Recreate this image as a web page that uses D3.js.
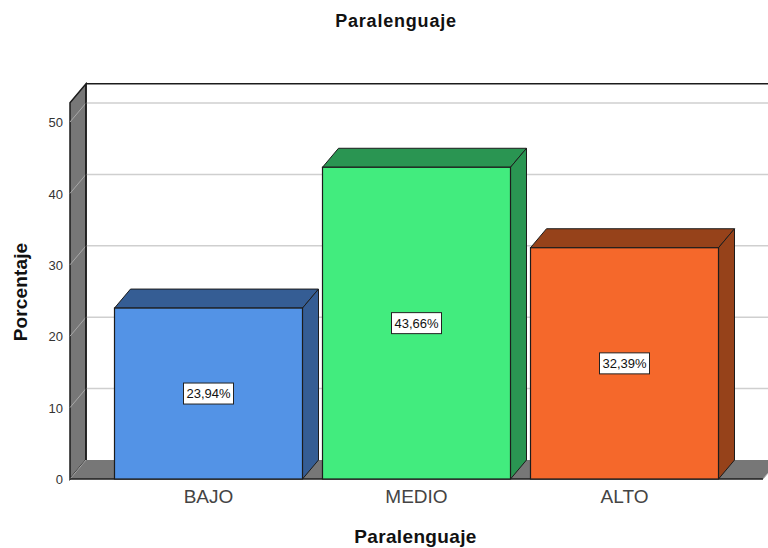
<!DOCTYPE html>
<html><head><meta charset="utf-8">
<script src="https://cdn.jsdelivr.net/npm/d3@7"></script>
<style>html,body{margin:0;padding:0;background:#fff}svg{display:block}text{font-family:"Liberation Sans",Arial,sans-serif}</style>
</head><body><svg id="c" width="768" height="548"></svg>
<script>
const categories=["BAJO","MEDIO","ALTO"];
const values=[23.94,43.66,32.39];
const valueLabels=["23,94%","43,66%","32,39%"];
const frontColors=["#5393e6","#42ec7e","#f5682b"];
const topColors=["#355d94","#2a9552","#96421a"];
const yTicks=[0,10,20,30,40,50];
const dx=16,dy=-19;
const svg=d3.select("#c");
const y=d3.scaleLinear().domain([0,50]).range([479,122]);
const x=d3.scaleBand().domain(categories).range([104.5,728.5]).paddingInner(20/208).paddingOuter(10/208);
const plotLeft=70,plotRight=763,yMax=52.7,plotBottom=y(0),plotTop=y(yMax);
const line="#1c1c1c",wall="#777777";
const pts=a=>a.map(p=>p.join(",")).join(" ");
// back wall
svg.append("rect").attr("x",plotLeft+dx).attr("y",plotTop+dy).attr("width",768-plotLeft-dx+2).attr("height",plotBottom-plotTop).attr("fill","#fff");
// left wall and floor
svg.append("polygon").attr("points",pts([[plotLeft,plotTop],[plotLeft+dx,plotTop+dy],[plotLeft+dx,plotBottom+dy],[plotLeft,plotBottom]])).attr("fill",wall).attr("stroke",line).attr("stroke-width",1.5);
svg.append("polygon").attr("points",pts([[plotLeft,plotBottom],[plotLeft+dx,plotBottom+dy],[plotRight+dx,plotBottom+dy],[plotRight,plotBottom]])).attr("fill",wall);
// grid
const gt=yTicks.filter(d=>d>0);
svg.selectAll(".g").data(gt).join("line").attr("x1",plotLeft+dx).attr("x2",770).attr("y1",d=>y(d)+dy).attr("y2",d=>y(d)+dy).attr("stroke","#cfcfcf").attr("stroke-width",1.5);
svg.selectAll(".gs").data(gt).join("line").attr("x1",plotLeft).attr("x2",plotLeft+dx).attr("y1",d=>y(d)).attr("y2",d=>y(d)+dy).attr("stroke","#a8a8a8").attr("stroke-width",1);
svg.append("line").attr("x1",plotLeft).attr("x2",plotLeft+dx).attr("y1",plotBottom).attr("y2",plotBottom+dy).attr("stroke","#a8a8a8");
// frame
svg.append("line").attr("x1",plotLeft+dx).attr("x2",770).attr("y1",plotTop+dy).attr("y2",plotTop+dy).attr("stroke",line).attr("stroke-width",1.5);
svg.append("line").attr("x1",plotLeft+dx).attr("x2",plotLeft+dx).attr("y1",plotTop+dy).attr("y2",plotBottom+dy).attr("stroke",line).attr("stroke-width",1.5);
svg.append("line").attr("x1",plotLeft).attr("x2",plotRight).attr("y1",plotBottom).attr("y2",plotBottom).attr("stroke",line).attr("stroke-width",1.5);
svg.append("line").attr("x1",plotRight).attr("x2",plotRight+dx).attr("y1",plotBottom).attr("y2",plotBottom+dy).attr("stroke","#aaa").attr("stroke-width",1);
// bars
const b=svg.selectAll(".bar").data(categories).join("g");
const w=x.bandwidth();
b.append("polygon").attr("points",(c,i)=>pts([[x(c),y(values[i])],[x(c)+dx,y(values[i])+dy],[x(c)+w+dx,y(values[i])+dy],[x(c)+w,y(values[i])]])).attr("fill",(c,i)=>topColors[i]).attr("stroke",line).attr("stroke-width",1);
b.append("polygon").attr("points",(c,i)=>pts([[x(c)+w,y(values[i])],[x(c)+w+dx,y(values[i])+dy],[x(c)+w+dx,plotBottom+dy],[x(c)+w,plotBottom]])).attr("fill",(c,i)=>topColors[i]).attr("stroke",line).attr("stroke-width",1);
b.append("rect").attr("x",c=>x(c)).attr("y",(c,i)=>y(values[i])).attr("width",w).attr("height",(c,i)=>plotBottom-y(values[i])).attr("fill",(c,i)=>frontColors[i]).attr("stroke",line).attr("stroke-width",1.2);
// value labels
b.append("rect").attr("x",c=>x(c)+w/2-25).attr("y",(c,i)=>(y(values[i])+plotBottom)/2-10.5).attr("width",50).attr("height",21).attr("fill","#fff").attr("stroke","#222").attr("stroke-width",1);
b.append("text").attr("x",c=>x(c)+w/2).attr("y",(c,i)=>(y(values[i])+plotBottom)/2+4.5).attr("text-anchor","middle").attr("font-size",13).attr("fill","#111").text((c,i)=>valueLabels[i]);
// axes
const ya=svg.append("g").attr("transform",`translate(${plotLeft},0.5)`).call(d3.axisLeft(y).tickValues(yTicks).tickSize(0).tickPadding(7));
ya.select(".domain").remove();
ya.selectAll("text").attr("font-size",13).attr("fill","#333").style("font-family",'"Liberation Sans",Arial,sans-serif');
const xa=svg.append("g").attr("transform",`translate(0,${plotBottom})`).call(d3.axisBottom(x).tickSize(0).tickPadding(11));
xa.select(".domain").remove();
xa.selectAll("text").attr("font-size",19).attr("fill","#444").style("font-family",'"Liberation Sans",Arial,sans-serif');
// titles
svg.append("text").attr("x",396).attr("y",27).attr("text-anchor","middle").attr("font-size",18).attr("letter-spacing",0.8).attr("font-weight","bold").attr("fill","#111").text("Paralenguaje");
svg.append("text").attr("x",415.5).attr("y",543).attr("text-anchor","middle").attr("font-size",19).attr("letter-spacing",0.35).attr("font-weight","bold").attr("fill","#111").text("Paralenguaje");
svg.append("text").attr("transform","translate(27,292) rotate(-90)").attr("text-anchor","middle").attr("font-size",19).attr("letter-spacing",0.15).attr("font-weight","bold").attr("fill","#111").text("Porcentaje");
</script></body></html>
